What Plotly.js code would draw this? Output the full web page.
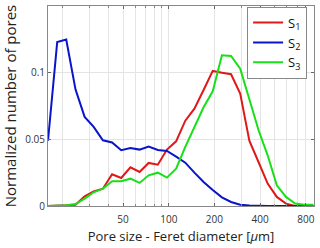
<!DOCTYPE html>
<html><head><meta charset="utf-8">
<script src="https://cdn.plot.ly/plotly-3.0.1.min.js"></script>
<style>html,body{margin:0;padding:0;background:#fff}#c{width:320px;height:248px}</style>
</head><body><div id="c"></div>
<script>
const poreSize = [16.0,18.4,21.1,24.3,27.9,32.0,36.8,42.3,48.6,55.9,64.2,73.7,84.7,97.3,111.8,128.5,147.6,169.6,194.9,224.0,257.3,295.7,339.7,390.3,448.5,515.3,592.1,680.3,781.7,898.2];
const s1 = [0,0,0.0005,0.001,0.0073,0.011,0.013,0.0238,0.021,0.029,0.0255,0.0323,0.031,0.0423,0.0485,0.064,0.073,0.087,0.1013,0.1,0.0988,0.0843,0.049,0.033,0.0168,0.0068,0.0018,0,0,0];
const s2 = [0.049,0.123,0.1248,0.0873,0.0668,0.0593,0.0493,0.0476,0.0418,0.0435,0.0423,0.0445,0.042,0.0413,0.037,0.0325,0.025,0.018,0.012,0.0065,0.003,0.001,0.0003,0,0,0,0,0,0,0];
const s3 = [0,0,0.0005,0.0015,0.0055,0.0103,0.013,0.0185,0.0185,0.0205,0.0173,0.023,0.025,0.0213,0.028,0.0443,0.0593,0.074,0.086,0.113,0.1125,0.103,0.08,0.057,0.038,0.0155,0.0068,0.0018,0.001,0.001];
const seriesNames = ['S<sub>1</sub>','S<sub>2</sub>','S<sub>3</sub>'];
const xTicks = [50,100,200,400,800];
const xMinor = [20,30,40,60,70,80,90,300,500,600,700];
const yTicks = [0,0.05,0.1,0.15];
const yTickText = ['0','0.05','0.1','0.15'];
const colors = ['#e01818','#0a14c8','#18e018'];
const data = [s1,s2,s3].map((s,i)=>({x:poreSize,y:s,type:'scatter',mode:'lines',name:seriesNames[i],line:{color:colors[i],width:2}}));
const layout = {
  width:320,height:248,
  margin:{l:48,r:6,t:6,b:42},
  paper_bgcolor:'#fff',plot_bgcolor:'#fff',
  font:{family:'Open Sans, sans-serif',color:'#333'},
  showlegend:true,
  legend:{x:0.974,y:0.997,xanchor:'right',yanchor:'top',bgcolor:'#fff',bordercolor:'#888',borderwidth:1,font:{size:13,color:'#111'},itemwidth:30,tracegroupgap:0},
  xaxis:{type:'log',range:[Math.log10(16),Math.log10(906)],tickvals:xTicks,ticktext:xTicks.map(String),
    showgrid:true,gridcolor:'#e4e4e4',gridwidth:1,ticks:'inside',ticklen:3,tickcolor:'#666',
    showline:true,linecolor:'#888',linewidth:1,mirror:'ticks',zeroline:false,
    tickfont:{size:10,color:'#333'},ticklabelstandoff:4,
    minor:{tickvals:xMinor,showgrid:true,gridcolor:'#e4e4e4',ticks:'inside',ticklen:2,tickcolor:'#888'},
    title:{text:'Pore size - Feret diameter [<i>μ</i>m]',font:{size:13,color:'#222'},standoff:6}},
  yaxis:{range:[0,0.15],tickvals:yTicks,ticktext:yTickText,
    showgrid:true,gridcolor:'#e4e4e4',ticks:'inside',ticklen:3,tickcolor:'#666',
    showline:true,linecolor:'#888',linewidth:1,mirror:'ticks',zeroline:false,
    tickfont:{size:10,color:'#333'},
    title:{text:'Normalized number of pores',font:{size:15,color:'#222'},standoff:5}}
};
Plotly.newPlot('c',data,layout,{displayModeBar:false,staticPlot:true});
</script></body></html>
